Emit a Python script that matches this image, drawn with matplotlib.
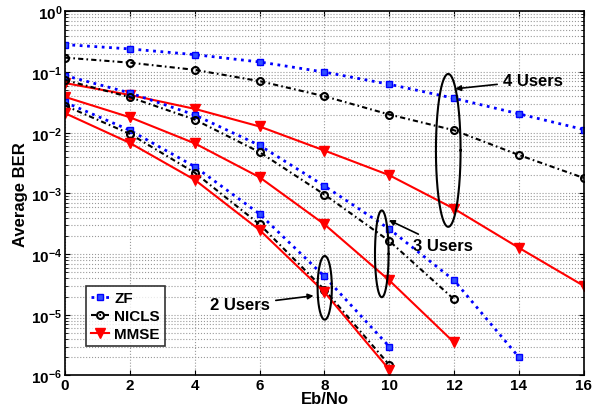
import numpy as np
import matplotlib
matplotlib.use('Agg')
import matplotlib.pyplot as plt

plt.rcParams['font.family'] = ['Liberation Sans', 'DejaVu Sans']
plt.rcParams['font.weight'] = 'bold'

# SNR axis
snr4 = [0, 2, 4, 6, 8, 10, 12, 14, 16]
snr3_zf = [0, 2, 4, 6, 8, 10, 12, 14]
snr3 = [0, 2, 4, 6, 8, 10, 12]
snr2 = [0, 2, 4, 6, 8, 10]

# 4 users
zf4 = [0.284, 0.241, 0.194, 0.147, 0.1, 0.063, 0.037, 0.0205, 0.0113]
nicls4 = [0.173, 0.143, 0.109, 0.071, 0.04, 0.020, 0.011, 0.0043, 0.0018]
mmse4 = [0.066, 0.042, 0.0248, 0.0127, 0.0051, 0.002, 5.6e-4, 1.27e-4, 3.0e-5]

# 3 users
zf3 = [0.0877, 0.0454, 0.0197, 0.0062, 1.33e-3, 2.6e-4, 3.7e-5, 2.0e-6]
nicls3 = [0.074, 0.0386, 0.0165, 0.0048, 9.6e-4, 1.65e-4, 1.8e-5]
mmse3 = [0.039, 0.018, 0.0067, 0.00185, 3.1e-4, 3.7e-5, 3.5e-6]

# 2 users
zf2 = [0.0319, 0.011, 0.00277, 4.6e-4, 4.3e-5, 3.0e-6]
nicls2 = [0.028, 0.0096, 0.0022, 3.1e-4, 2.6e-5, 1.5e-6]
mmse2 = [0.021, 0.0068, 0.00168, 2.5e-4, 2.37e-5, 1.25e-6]

fig = plt.figure(figsize=(6.1, 4.14), dpi=100)
ax = fig.add_axes([0.1066, 0.0906, 0.8504, 0.8794])

zf_style = dict(color='b', linestyle=':', linewidth=2, marker='s', markersize=5,
                markerfacecolor='#3050ff', markeredgecolor='b')
nc_style = dict(color='k', linestyle=(0, (2.5, 1.5, 0.8, 1.5)), linewidth=1.5, marker='o',
                markersize=5, markerfacecolor='none', markeredgecolor='k', markeredgewidth=1.5)
mm_style = dict(color='r', linestyle='-', linewidth=1.5, marker='v', markersize=7,
                markerfacecolor='r', markeredgecolor='r')

ax.semilogy(snr4, zf4, label='ZF', **zf_style)
ax.semilogy(snr4, nicls4, label='NICLS', **nc_style)
ax.semilogy(snr4, mmse4, label='MMSE', **mm_style)
ax.semilogy(snr3_zf, zf3, **zf_style)
ax.semilogy(snr3, nicls3, **nc_style)
ax.semilogy(snr3, mmse3, **mm_style)
ax.semilogy(snr2, zf2, **zf_style)
ax.semilogy(snr2, nicls2, **nc_style)
ax.semilogy(snr2, mmse2, **mm_style)

# ellipses (centre x, half width, log-y low, log-y high)
ellipses = [(11.82, 0.38, -3.55, -1.03),
            (9.77, 0.21, -4.71, -3.28),
            (8.01, 0.22, -5.08, -4.03)]
t = np.linspace(0, 2 * np.pi, 200)
for cx, a, lo, hi in ellipses:
    cy = (lo + hi) / 2
    b = (hi - lo) / 2
    ax.plot(cx + a * np.cos(t), 10 ** (cy + b * np.sin(t)), 'k-', linewidth=1.5)

arrow = dict(arrowstyle='-|>', color='k', lw=1.2, mutation_scale=8)
ax.annotate('4 Users', xy=(11.95, 10 ** -1.28), xytext=(13.5, 10 ** -1.14),
            fontsize=12, fontweight='bold', va='center', ha='left', arrowprops=arrow)
ax.annotate('3 Users', xy=(9.91, 10 ** -3.42), xytext=(10.72, 10 ** -3.86),
            fontsize=12, fontweight='bold', va='center', ha='left', arrowprops=arrow)
ax.annotate('2 Users', xy=(7.75, 10 ** -4.68), xytext=(6.33, 10 ** -4.835),
            fontsize=12, fontweight='bold', va='center', ha='right', arrowprops=arrow)

ax.set_xlim(0, 16)
ax.set_ylim(1e-6, 1)
ax.set_xticks(range(0, 17, 2))
ax.set_xlabel('Eb/No', fontsize=12, fontweight='bold', labelpad=-1)
ax.set_ylabel('Average BER', fontsize=12, fontweight='bold', labelpad=2)
ax.tick_params(which='both', direction='in', top=True, right=True, labelsize=11, pad=2)
ax.grid(True, which='major', linestyle=':', color='#999999', linewidth=0.8)
ax.grid(True, which='minor', axis='y', linestyle=':', color='#999999', linewidth=0.8)
for s in ax.spines.values():
    s.set_linewidth(1.2)

leg = ax.legend(loc='lower left', bbox_to_anchor=(0.04, 0.08), borderaxespad=0,
                fontsize=11, fancybox=False, edgecolor='k', handlelength=1.2,
                borderpad=0.35, labelspacing=0.25, handletextpad=0.3)
leg.get_frame().set_linewidth(1.2)

fig.savefig('out.png', dpi=100)
